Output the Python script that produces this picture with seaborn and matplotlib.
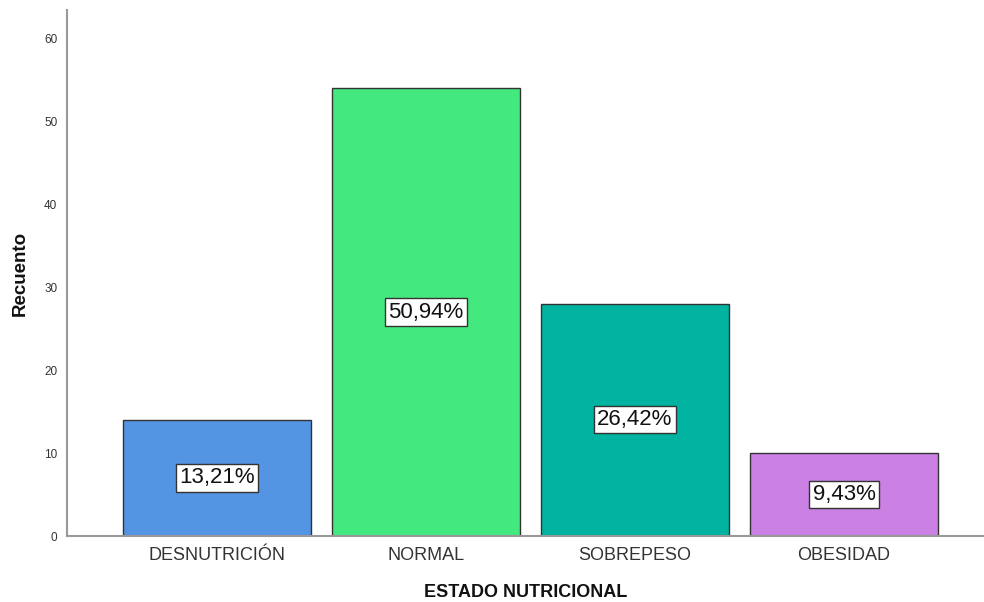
import matplotlib
matplotlib.use("Agg")
import matplotlib.pyplot as plt
import seaborn as sns
import pandas as pd

categories = ["DESNUTRICIÓN", "NORMAL", "SOBREPESO", "OBESIDAD"]
counts = [14, 54, 28, 10]
colors = ["#5394E3", "#43E97E", "#00B2A0", "#CB80E3"]
yticks = [0, 10, 20, 30, 40, 50, 60]

df = pd.DataFrame({"estado": categories, "recuento": counts})
total = sum(counts)

sns.set_style("white")
plt.rcParams["font.family"] = ["Liberation Sans", "DejaVu Sans"]

fig = plt.figure(figsize=(9.84, 6.02), dpi=100)
ax = fig.add_axes([0.0681, 0.1096, 0.9319, 0.8738])

sns.barplot(data=df, x="estado", y="recuento", hue="estado",
            palette=colors, order=categories, hue_order=categories,
            width=0.9, saturation=1, edgecolor="#333333", linewidth=1.0,
            legend=False, ax=ax)

for i, c in enumerate(counts):
    pct = f"{c / total * 100:.2f}%".replace(".", ",")
    ax.text(i, c / 2, pct, ha="center", va="center", fontsize=16,
            color="#111111",
            bbox=dict(boxstyle="square,pad=0.14", facecolor="white",
                      edgecolor="#333333", linewidth=1.0))

ax.set_xlim(-0.718, 3.67)
ax.set_ylim(0, 63.4)
ax.set_yticks(yticks)
ax.set_yticklabels([str(t) for t in yticks], fontsize=8.5, color="#333333")
ax.tick_params(axis="x", labelsize=13, labelcolor="#333333", length=0, pad=8)
ax.tick_params(axis="y", length=0, pad=7)

for side in ["top", "right"]:
    ax.spines[side].set_visible(False)
for side in ["left", "bottom"]:
    ax.spines[side].set_color("#999999")
    ax.spines[side].set_linewidth(1.5)

ax.set_xlabel("ESTADO NUTRICIONAL", fontsize=13, fontweight="bold",
              color="#111111", labelpad=14)
ax.set_ylabel("Recuento", fontsize=13.5, fontweight="bold",
              color="#111111", labelpad=11)

fig.savefig("out.png", dpi=100)
